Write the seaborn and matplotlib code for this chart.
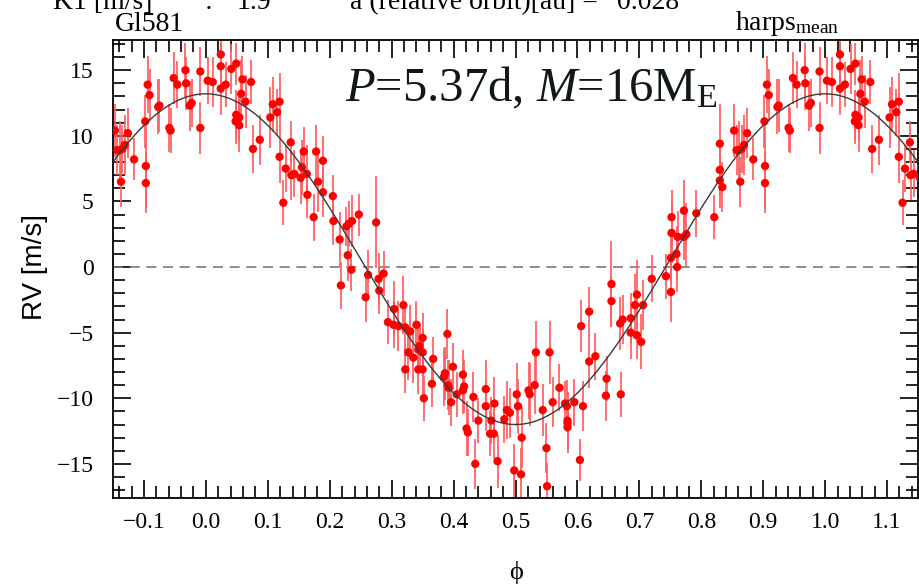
import numpy as np
import pandas as pd
import matplotlib
matplotlib.use("Agg")
import matplotlib.pyplot as plt
import seaborn as sns
from matplotlib.ticker import MultipleLocator, FuncFormatter

# Gl 581 HARPS radial velocities folded on the 5.37 d orbit
phase = [
    0.003, 0.011, 0.024, 0.024, 0.024, 0.032, 0.041, 0.049, 0.059, 0.057, 0.064,
    0.073, 0.049, 0.048, 0.054, 0.054, 0.108, 0.119, 0.115, 0.104, 0.087, 0.076,
    0.137, 0.119, 0.129, 0.125, 0.158, 0.155, 0.143, 0.138, 0.153, 0.163, 0.164,
    0.178, 0.189, 0.181, 0.174, 0.189, 0.205, 0.206, 0.216, 0.227, 0.231, 0.236,
    0.247, 0.275, 0.229, 0.235, 0.218, 0.262, 0.279, 0.287, 0.280, 0.258, 0.304,
    0.319, 0.294, 0.303, 0.311, 0.322,
    0.330, 0.340, 0.350, 0.345, 0.343, 0.350, 0.327, 0.335, 0.322, 0.343, 0.350,
    0.367, 0.365, 0.352, 0.390, 0.399, 0.384, 0.386, 0.391, 0.392, 0.396, 0.405,
    0.415, 0.417, 0.415, 0.432, 0.421, 0.423, 0.435, 0.440, 0.452, 0.452, 0.466,
    0.461, 0.459, 0.465, 0.471, 0.482, 0.486, 0.491, 0.502, 0.504, 0.498,
    0.509, 0.510, 0.521, 0.523, 0.531, 0.533, 0.544, 0.550, 0.551, 0.555, 0.560,
    0.571, 0.580, 0.583, 0.584, 0.584, 0.584, 0.595, 0.604, 0.609, 0.606, 0.619,
    0.619, 0.629, 0.647, 0.646, 0.655, 0.655, 0.670, 0.669, 0.673,
    0.686, 0.686, 0.696, 0.703, 0.693, 0.696, 0.706, 0.720, 0.743, 0.751, 0.751,
    0.760, 0.761, 0.752, 0.752, 0.762, 0.772, 0.776, 0.772, 0.792, 0.821, 0.830,
    0.834, 0.830, 0.830,
    0.853, 0.857, 0.861, 0.865, 0.869, 0.874, 0.884, 0.863, 0.902, 0.903, 0.903,
    0.906, 0.909, 0.923, 0.925, 0.941, 0.943, 0.948, 0.954, 0.967, 0.968, 0.974,
    0.977, 0.991, 0.991,
]
rv = [
    14.2, 14.1, 16.2, 15.3, 13.6, 13.9, 15.1, 15.5, 14.3, 13.2, 12.6,
    14.1, 11.6, 11.1, 11.4, 10.8, 12.4, 12.6, 11.8, 11.4, 9.7, 9.0,
    9.5, 8.4, 7.5, 4.9, 8.8, 7.6, 7.1, 7.0, 6.8, 7.1, 5.5,
    8.8, 8.1, 6.5, 3.8, 5.7, 5.4, 3.5, 2.1, 3.1, 3.3, 3.5,
    4.0, 3.4, 0.9, -0.2, -1.4, -0.6, -0.9, -0.5, -1.8, -2.3, -3.2,
    -2.9, -4.2, -4.4, -4.5, -4.6,
    -4.9, -4.4, -5.4, -6.0, -6.3, -6.5, -6.5, -6.9, -7.8, -7.8, -7.8,
    -7.0, -8.9, -10.0, -5.1, -7.6, -8.4, -8.1, -9.0, -9.2, -10.3, -9.7,
    -8.2, -9.1, -9.4, -9.9, -12.3, -12.6, -15.0, -11.7, -9.3, -10.6, -10.4,
    -11.7, -12.7, -12.7, -14.8, -11.6, -10.9, -11.1, -9.7, -10.6, -15.5,
    -15.8, -13.0, -9.4, -9.7, -9.0, -6.5, -10.9, -13.8, -16.7, -6.5, -10.3,
    -9.2, -10.4, -10.6, -11.7, -11.9, -12.2, -10.3, -14.7, -10.6, -4.5, -3.4,
    -7.2, -6.8, -8.5, -9.8, -1.3, -2.6, -9.7, -4.3, -4.0,
    -3.9, -5.0, -5.2, -5.7, -2.9, -2.1, -2.9, -0.9, -0.7, -1.9, 0.7,
    1.0, 0.0, 2.6, 3.8, 2.3, 2.3, 2.5, 4.3, 4.1, 3.8, 6.6,
    6.1, 7.4, 9.4,
    10.4, 8.9, 8.9, 9.0, 9.3, 10.2, 8.2, 6.5, 11.1, 7.7, 6.4,
    13.9, 13.1, 12.2, 12.3, 10.6, 10.4, 14.4, 13.9, 15.0, 14.0, 12.3,
    12.5, 14.9, 10.6,
]
rv_err = [
    1.8, 1.9, 1.5, 1.8, 2.0, 1.7, 1.9, 1.6, 1.8, 2.6, 2.0,
    1.7, 1.9, 1.7, 1.8, 2.0, 2.1, 2.2, 1.8, 2.3, 1.9, 1.8,
    1.6, 2.0, 1.8, 1.7, 1.9, 2.1, 1.8, 1.9, 2.0, 2.2, 1.8,
    2.0, 1.9, 2.3, 1.8, 1.9, 1.6, 1.8, 2.1, 1.5, 1.7, 2.0,
    1.6, 3.5, 2.0, 1.6, 1.8, 1.9, 2.0, 1.7, 1.8, 1.9, 2.1,
    2.2, 1.7, 1.8, 1.9, 1.7,
    2.0, 1.8, 1.9, 1.7, 2.0, 1.8, 2.1, 1.9, 1.8, 1.9, 2.0,
    1.7, 1.8, 1.7, 1.9, 1.8, 2.2, 2.0, 1.9, 2.1, 1.8, 1.7,
    1.9, 2.0, 1.8, 1.9, 2.1, 1.8, 1.9, 1.7, 2.2, 1.9, 2.0,
    1.8, 1.7, 1.9, 2.0, 1.8, 2.2, 1.9, 2.4, 2.1, 2.0,
    2.0, 2.3, 2.2, 2.4, 2.2, 2.4, 2.0, 1.9, 1.8, 2.4, 1.9,
    1.8, 1.7, 2.0, 2.2, 1.9, 2.0, 1.8, 1.6, 1.9, 2.0, 1.9,
    2.0, 1.8, 1.7, 1.9, 3.3, 2.0, 1.7, 2.0, 1.9,
    1.9, 2.0, 1.8, 2.1, 2.4, 2.6, 1.9, 1.8, 1.7, 2.3, 1.9,
    2.1, 1.9, 2.3, 2.1, 2.0, 1.8, 2.4, 2.3, 1.8, 1.7, 2.1,
    1.9, 2.0, 3.0,
    2.0, 1.9, 2.2, 1.8, 2.3, 1.9, 1.6, 1.9, 2.0, 3.2, 2.3,
    2.2, 2.0, 2.1, 2.0, 1.8, 1.7, 2.0, 1.8, 2.1, 2.0, 1.9,
    1.8, 1.9, 2.0,
]

# circular orbit solution
k_amp = 12.6      # semi-amplitude [m/s]
v_offset = 0.6    # systemic offset [m/s]

sns.set_theme(style="white")
plt.rcParams["font.family"] = ["Liberation Serif", "DejaVu Serif"]
plt.rcParams["mathtext.fontset"] = "custom"
plt.rcParams["mathtext.rm"] = "Liberation Serif"
plt.rcParams["mathtext.it"] = "Liberation Serif:italic"
plt.rcParams["text.color"] = "black"
plt.rcParams["xtick.color"] = "black"
plt.rcParams["ytick.color"] = "black"

obs = pd.DataFrame({"phase": phase, "rv": rv, "err": rv_err})
folded = pd.concat([obs.assign(phase=obs["phase"] + s) for s in (-1, 0, 1)],
                   ignore_index=True)

grid = np.linspace(-0.15, 1.15, 800)
model = pd.DataFrame({"phase": grid,
                      "rv": v_offset + k_amp * np.cos(2 * np.pi * grid)})

W, H = 920, 586
fig = plt.figure(figsize=(W / 100, H / 100), dpi=100)
ax = fig.add_axes([113 / W, 88 / H, 805 / W, 458 / H])

ax.axhline(0, color="#7a7a7a", lw=1.2, ls=(0, (6, 4)), zorder=1)
ax.errorbar(folded["phase"], folded["rv"], yerr=folded["err"], fmt="none",
            ecolor="#ff5e5e", elinewidth=1.25, capsize=0, zorder=2)
sns.scatterplot(data=folded, x="phase", y="rv", color="#ff0000", s=36,
                edgecolor="none", linewidth=0, ax=ax, zorder=3, legend=False)
sns.lineplot(data=model, x="phase", y="rv", color="#3a3a3a", lw=1.0,
             ax=ax, zorder=4)

ax.set_xlim(-0.15, 1.15)
ax.set_ylim(-17.6, 17.3)
ax.set_xlabel("")
ax.set_ylabel("")

ax.xaxis.set_major_locator(MultipleLocator(0.1))
ax.xaxis.set_minor_locator(MultipleLocator(0.02))
ax.yaxis.set_major_locator(MultipleLocator(5))
ax.yaxis.set_minor_locator(MultipleLocator(1))


def fmt_x(v, pos):
    v = round(v, 2)
    if v == 0:
        v = 0.0
    return f"{v:.1f}".replace("-", "\u2212")


def fmt_y(v, pos):
    v = int(round(v))
    return f"{v}".replace("-", "\u2212")


ax.xaxis.set_major_formatter(FuncFormatter(fmt_x))
ax.yaxis.set_major_formatter(FuncFormatter(fmt_y))

ax.tick_params(which="both", direction="in", bottom=True, left=True,
               top=True, right=True, color="black", width=1.2,
               labelcolor="black")
ax.tick_params(which="major", length=13, labelsize=17)
ax.tick_params(which="minor", length=8.5)
ax.tick_params(axis="x", which="major", pad=10)
ax.tick_params(axis="y", which="major", pad=14)
for sp in ax.spines.values():
    sp.set_color("black")
    sp.set_linewidth(1.3)

fig.text(516 / W, 1 - 572 / H, "\u03d5", fontsize=19, ha="center", va="center")
fig.text(35 / W, 1 - 267 / H, "RV [m/s]", fontsize=20, rotation=90,
         ha="center", va="center", family=["Liberation Sans", "DejaVu Sans"])

top = 1 - 9 / H
fig.text(53 / W, top, "K1 [m/s]", fontsize=20, va="baseline")
fig.text(205 / W, top, ":", fontsize=20, va="baseline")
fig.text(237 / W, top, "1.9", fontsize=20, va="baseline")
fig.text(350 / W, top, "a (relative orbit)[au] =", fontsize=20, va="baseline")
fig.text(617 / W, top, "0.028", fontsize=20, va="baseline")

fig.text(115 / W, 1 - 31 / H, "Gl581", fontsize=20, va="baseline")
fig.text(735 / W, 1 - 30 / H, r"harps$_{\rm mean}$", fontsize=20, va="baseline")
fig.text(345 / W, 1 - 101 / H, r"$P$=5.37d, $M$=16M$_{\rm E}$", fontsize=35,
         va="baseline", color="#101818")

fig.savefig("out.png", dpi=100)
